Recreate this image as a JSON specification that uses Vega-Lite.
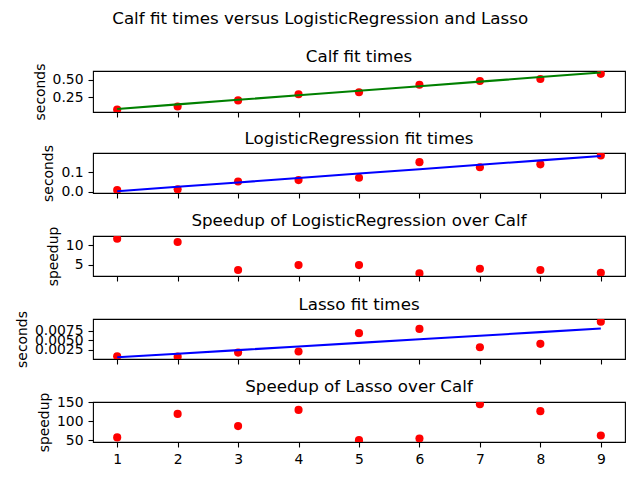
{
  "$schema": "https://vega.github.io/schema/vega-lite/v6.json",
  "padding": {"left": 14, "top": 11, "right": 5, "bottom": 5},
  "title": {"text": "Calf fit times versus LogisticRegression and Lasso", "anchor": "middle", "frame": "bounds", "fontSize": 16.7, "fontWeight": "normal", "color": "black", "offset": 21},
  "data": {"values": [
    {"x": 1, "calf": 0.066, "calf_fit": 0.075, "lr": 0.008, "lr_fit": 0.002, "lr_speedup": 11.68, "lasso": 0.00084, "lasso_fit": 0.00058, "lasso_speedup": 58},
    {"x": 2, "calf": 0.110, "calf_fit": 0.142, "lr": 0.012, "lr_fit": 0.025, "lr_speedup": 10.84, "lasso": 0.00074, "lasso_fit": 0.00152, "lasso_speedup": 119.7},
    {"x": 3, "calf": 0.200, "calf_fit": 0.209, "lr": 0.052, "lr_fit": 0.047, "lr_speedup": 3.65, "lasso": 0.0018, "lasso_fit": 0.00246, "lasso_speedup": 87.8},
    {"x": 4, "calf": 0.290, "calf_fit": 0.276, "lr": 0.059, "lr_fit": 0.070, "lr_speedup": 4.92, "lasso": 0.0021, "lasso_fit": 0.00340, "lasso_speedup": 130.3},
    {"x": 5, "calf": 0.320, "calf_fit": 0.343, "lr": 0.071, "lr_fit": 0.093, "lr_speedup": 4.92, "lasso": 0.0069, "lasso_fit": 0.00434, "lasso_speedup": 50.8},
    {"x": 6, "calf": 0.430, "calf_fit": 0.409, "lr": 0.151, "lr_fit": 0.115, "lr_speedup": 2.8, "lasso": 0.0080, "lasso_fit": 0.00528, "lasso_speedup": 55.3},
    {"x": 7, "calf": 0.485, "calf_fit": 0.476, "lr": 0.125, "lr_fit": 0.138, "lr_speedup": 3.98, "lasso": 0.0032, "lasso_fit": 0.00622, "lasso_speedup": 145},
    {"x": 8, "calf": 0.515, "calf_fit": 0.543, "lr": 0.140, "lr_fit": 0.160, "lr_speedup": 3.65, "lasso": 0.0041, "lasso_fit": 0.00716, "lasso_speedup": 127},
    {"x": 9, "calf": 0.590, "calf_fit": 0.610, "lr": 0.185, "lr_fit": 0.183, "lr_speedup": 2.97, "lasso": 0.0099, "lasso_fit": 0.0081, "lasso_speedup": 63}
  ]},
  "spacing": 9,
  "vconcat": [
    {
      "title": {"text": "Calf fit times"},
      "width": 532, "height": 41,
      "layer": [
        {"mark": {"type": "circle", "color": "#ff0000", "opacity": 1, "size": 66, "clip": true},
         "encoding": {
           "x": {"field": "x", "type": "quantitative", "scale": {"domain": [0.6, 9.4], "nice": false, "zero": false}, "axis": {"values": [1,2,3,4,5,6,7,8,9], "labels": false, "title": null}},
           "y": {"field": "calf", "type": "quantitative", "scale": {"domain": [0.03, 0.632], "nice": false, "zero": false}, "axis": {"title": "seconds", "values": [0.25, 0.5], "format": ".2f", "labelOverlap": false}}}},
        {"mark": {"type": "line", "color": "#008000", "strokeWidth": 2.1, "clip": true},
         "encoding": {
           "x": {"field": "x", "type": "quantitative", "axis": {"values": [1,2,3,4,5,6,7,8,9], "labels": false, "title": null}},
           "y": {"field": "calf_fit", "type": "quantitative", "axis": {"title": "seconds", "values": [0.25, 0.5], "format": ".2f", "labelOverlap": false}}}}
      ]
    },
    {
      "title": {"text": "LogisticRegression fit times"},
      "width": 532, "height": 40,
      "layer": [
        {"mark": {"type": "circle", "color": "#ff0000", "opacity": 1, "size": 66, "clip": true},
         "encoding": {
           "x": {"field": "x", "type": "quantitative", "scale": {"domain": [0.6, 9.4], "nice": false, "zero": false}, "axis": {"values": [1,2,3,4,5,6,7,8,9], "labels": false, "title": null}},
           "y": {"field": "lr", "type": "quantitative", "scale": {"domain": [-0.007, 0.198], "nice": false, "zero": false}, "axis": {"title": "seconds", "values": [0, 0.1], "format": ".1f", "labelOverlap": false}}}},
        {"mark": {"type": "line", "color": "#0000ff", "strokeWidth": 2.1, "clip": true},
         "encoding": {
           "x": {"field": "x", "type": "quantitative", "axis": {"values": [1,2,3,4,5,6,7,8,9], "labels": false, "title": null}},
           "y": {"field": "lr_fit", "type": "quantitative", "axis": {"title": "seconds", "values": [0, 0.1], "format": ".1f", "labelOverlap": false}}}}
      ]
    },
    {
      "title": {"text": "Speedup of LogisticRegression over Calf"},
      "width": 532, "height": 40,
      "mark": {"type": "circle", "color": "#ff0000", "opacity": 1, "size": 66, "clip": true},
      "encoding": {
        "x": {"field": "x", "type": "quantitative", "scale": {"domain": [0.6, 9.4], "nice": false, "zero": false}, "axis": {"values": [1,2,3,4,5,6,7,8,9], "labels": false, "title": null}},
        "y": {"field": "lr_speedup", "type": "quantitative", "scale": {"domain": [2.13, 12.36], "nice": false, "zero": false}, "axis": {"title": "speedup", "values": [5, 10], "format": "d", "labelOverlap": false}}}
    },
    {
      "title": {"text": "Lasso fit times"},
      "width": 532, "height": 40,
      "layer": [
        {"mark": {"type": "circle", "color": "#ff0000", "opacity": 1, "size": 66, "clip": true},
         "encoding": {
           "x": {"field": "x", "type": "quantitative", "scale": {"domain": [0.6, 9.4], "nice": false, "zero": false}, "axis": {"values": [1,2,3,4,5,6,7,8,9], "labels": false, "title": null}},
           "y": {"field": "lasso", "type": "quantitative", "scale": {"domain": [0.00013, 0.0106], "nice": false, "zero": false}, "axis": {"title": "seconds", "values": [0.0025, 0.005, 0.0075], "format": ".4f", "labelOverlap": false}}}},
        {"mark": {"type": "line", "color": "#0000ff", "strokeWidth": 2.1, "clip": true},
         "encoding": {
           "x": {"field": "x", "type": "quantitative", "axis": {"values": [1,2,3,4,5,6,7,8,9], "labels": false, "title": null}},
           "y": {"field": "lasso_fit", "type": "quantitative", "axis": {"title": "seconds", "values": [0.0025, 0.005, 0.0075], "format": ".4f", "labelOverlap": false}}}}
      ]
    },
    {
      "title": {"text": "Speedup of Lasso over Calf"},
      "width": 532, "height": 40,
      "mark": {"type": "circle", "color": "#ff0000", "opacity": 1, "size": 66, "clip": true},
      "encoding": {
        "x": {"field": "x", "type": "quantitative", "scale": {"domain": [0.6, 9.4], "nice": false, "zero": false}, "axis": {"values": [1,2,3,4,5,6,7,8,9], "format": "d", "title": null}},
        "y": {"field": "lasso_speedup", "type": "quantitative", "scale": {"domain": [46, 151], "nice": false, "zero": false}, "axis": {"title": "speedup", "values": [50, 100, 150], "format": "d", "labelOverlap": false}}}
    }
  ],
  "config": {
    "font": "DejaVu Sans",
    "view": {"stroke": "black", "strokeWidth": 1.1, "fill": "white"},
    "background": "white",
    "axis": {"grid": false, "domain": false, "ticks": true, "tickColor": "black", "tickSize": 5, "tickWidth": 1.1, "labelPadding": 5, "labelFontSize": 13.9, "labelColor": "black", "labelOverlap": false, "labelFlush": false, "labelBound": false, "titleFontSize": 13.9, "titleFontWeight": "normal", "titleColor": "black", "titlePadding": 5},
    "title": {"fontSize": 16.7, "fontWeight": "normal", "color": "black", "offset": -3, "baseline": "alphabetic", "anchor": "middle"}
  }
}
